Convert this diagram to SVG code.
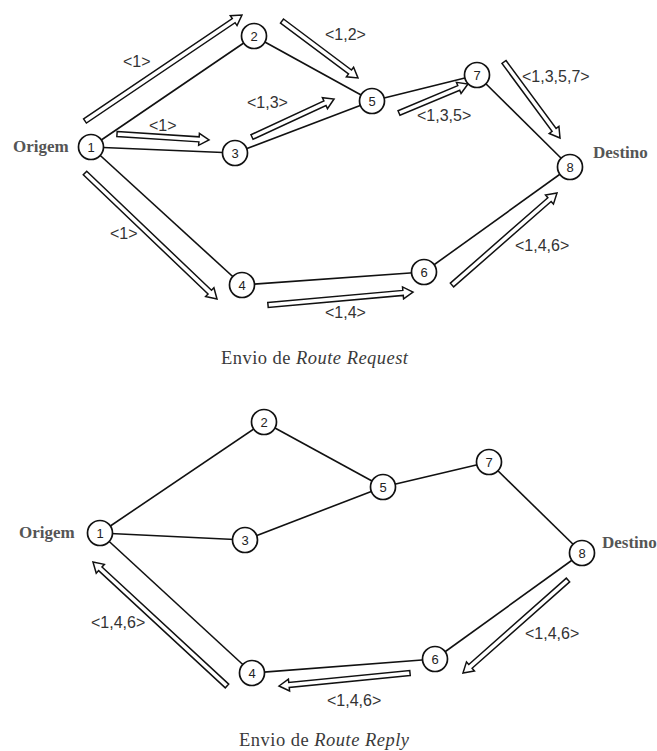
<svg xmlns="http://www.w3.org/2000/svg" width="657" height="751" viewBox="0 0 657 751">
<style>
.edge{stroke:#111;stroke-width:1.6;fill:none}
.arr{fill:#fff;stroke:#111;stroke-width:1.5;stroke-linejoin:miter}
.node circle{fill:#fff;stroke:#111;stroke-width:1.7}
.node text{font-family:"Liberation Sans",Arial,sans-serif;font-size:13px;fill:#222;text-anchor:middle}
.lbl{font-family:"Liberation Sans",Arial,sans-serif;font-size:16px;fill:#333}
.side{font-family:"Liberation Serif","Times New Roman",serif;font-size:17px;font-weight:bold;fill:#555}
.cap{font-family:"Liberation Serif","Times New Roman",serif;font-size:18.5px;fill:#3a3a3a}
</style>
<rect width="657" height="751" fill="#fff"/>

<g id="connectors">
  <!-- top edges -->
  <line class="edge" x1="91" y1="147" x2="254" y2="36"/>
  <line class="edge" x1="254" y1="36" x2="372" y2="101"/>
  <line class="edge" x1="91" y1="147" x2="235" y2="153"/>
  <line class="edge" x1="235" y1="153" x2="372" y2="101"/>
  <line class="edge" x1="372" y1="101" x2="477" y2="75"/>
  <line class="edge" x1="477" y1="75" x2="570" y2="167"/>
  <line class="edge" x1="91" y1="147" x2="242" y2="285"/>
  <line class="edge" x1="242" y1="285" x2="424" y2="272"/>
  <line class="edge" x1="424" y1="272" x2="570" y2="167"/>
  <!-- bottom edges -->
  <line class="edge" x1="100" y1="533" x2="264" y2="422"/>
  <line class="edge" x1="264" y1="422" x2="383" y2="487"/>
  <line class="edge" x1="100" y1="533" x2="245" y2="540"/>
  <line class="edge" x1="245" y1="540" x2="383" y2="487"/>
  <line class="edge" x1="383" y1="487" x2="489" y2="462"/>
  <line class="edge" x1="489" y1="462" x2="582" y2="553"/>
  <line class="edge" x1="100" y1="533" x2="252" y2="673"/>
  <line class="edge" x1="252" y1="673" x2="435" y2="659"/>
  <line class="edge" x1="435" y1="659" x2="582" y2="553"/>

  <!-- top hollow arrows -->
  <path class="arr" transform="translate(85 121) rotate(-34.03)" d="M0,-2.5 L179.4,-2.5 L179.4,-6 L189.4,0 L179.4,6 L179.4,2.5 L0,2.5 Z"/>
  <path class="arr" transform="translate(282 21) rotate(36.87)" d="M0,-2.5 L85,-2.5 L85,-6 L95,0 L85,6 L85,2.5 L0,2.5 Z"/>
  <path class="arr" transform="translate(117 134) rotate(3.73)" d="M0,-2.5 L82.2,-2.5 L82.2,-6 L92.2,0 L82.2,6 L82.2,2.5 L0,2.5 Z"/>
  <path class="arr" transform="translate(252 137) rotate(-24.86)" d="M0,-2.5 L80.4,-2.5 L80.4,-6 L90.4,0 L80.4,6 L80.4,2.5 L0,2.5 Z"/>
  <path class="arr" transform="translate(399 113) rotate(-22.8)" d="M0,-2.5 L64.8,-2.5 L64.8,-6 L74.8,0 L64.8,6 L64.8,2.5 L0,2.5 Z"/>
  <path class="arr" transform="translate(504 62) rotate(53.6)" d="M0,-2.5 L84.4,-2.5 L84.4,-6 L94.4,0 L84.4,6 L84.4,2.5 L0,2.5 Z"/>
  <path class="arr" transform="translate(85 173) rotate(43.67)" d="M0,-2.5 L172.5,-2.5 L172.5,-6 L182.5,0 L172.5,6 L172.5,2.5 L0,2.5 Z"/>
  <path class="arr" transform="translate(268 305) rotate(-5.12)" d="M0,-2.5 L135.6,-2.5 L135.6,-6 L145.6,0 L135.6,6 L135.6,2.5 L0,2.5 Z"/>
  <path class="arr" transform="translate(452 285) rotate(-41.22)" d="M0,-2.5 L129.6,-2.5 L129.6,-6 L139.6,0 L129.6,6 L129.6,2.5 L0,2.5 Z"/>

  <!-- bottom hollow arrows -->
  <path class="arr" transform="translate(227 686) rotate(-137.22)" d="M0,-2.5 L172.6,-2.5 L172.6,-6 L182.6,0 L172.6,6 L172.6,2.5 L0,2.5 Z"/>
  <path class="arr" transform="translate(410 673) rotate(174.33)" d="M0,-2.5 L121.6,-2.5 L121.6,-6 L131.6,0 L121.6,6 L121.6,2.5 L0,2.5 Z"/>
  <path class="arr" transform="translate(568 580) rotate(138.47)" d="M0,-2.5 L130.3,-2.5 L130.3,-6 L140.3,0 L130.3,6 L130.3,2.5 L0,2.5 Z"/>
</g>

<g id="labels-top">
  <text class="lbl" x="123" y="67">&lt;1&gt;</text>
  <text class="lbl" x="325" y="40">&lt;1,2&gt;</text>
  <text class="lbl" x="247" y="108">&lt;1,3&gt;</text>
  <text class="lbl" x="149" y="131">&lt;1&gt;</text>
  <text class="lbl" x="417" y="121">&lt;1,3,5&gt;</text>
  <text class="lbl" x="522" y="82">&lt;1,3,5,7&gt;</text>
  <text class="lbl" x="110" y="239">&lt;1&gt;</text>
  <text class="lbl" x="515" y="251">&lt;1,4,6&gt;</text>
  <text class="lbl" x="325" y="318">&lt;1,4&gt;</text>
  <text class="side" x="13" y="152">Origem</text>
  <text class="side" x="593" y="158">Destino</text>
  <text class="cap" x="221" y="364" textLength="187" lengthAdjust="spacing">Envio de <tspan font-style="italic">Route Request</tspan></text>
</g>

<g id="labels-bottom">
  <text class="lbl" x="91" y="628">&lt;1,4,6&gt;</text>
  <text class="lbl" x="525" y="639">&lt;1,4,6&gt;</text>
  <text class="lbl" x="327" y="706">&lt;1,4,6&gt;</text>
  <text class="side" x="19" y="538">Origem</text>
  <text class="side" x="602" y="548">Destino</text>
  <text class="cap" x="239" y="746" textLength="170" lengthAdjust="spacing">Envio de <tspan font-style="italic">Route Reply</tspan></text>
</g>

<g id="t1" class="node"><circle cx="91" cy="147" r="12.5"/><text x="91" y="151.5">1</text></g>
<g id="t2" class="node"><circle cx="254" cy="36" r="12.5"/><text x="254" y="40.5">2</text></g>
<g id="t3" class="node"><circle cx="235" cy="153" r="12.5"/><text x="235" y="157.5">3</text></g>
<g id="t4" class="node"><circle cx="242" cy="285" r="12.5"/><text x="242" y="289.5">4</text></g>
<g id="t5" class="node"><circle cx="372" cy="101" r="12.5"/><text x="372" y="105.5">5</text></g>
<g id="t6" class="node"><circle cx="424" cy="272" r="12.5"/><text x="424" y="276.5">6</text></g>
<g id="t7" class="node"><circle cx="477" cy="75" r="12.5"/><text x="477" y="79.5">7</text></g>
<g id="t8" class="node"><circle cx="570" cy="167" r="12.5"/><text x="570" y="171.5">8</text></g>

<g id="b1" class="node"><circle cx="100" cy="533" r="12.5"/><text x="100" y="537.5">1</text></g>
<g id="b2" class="node"><circle cx="264" cy="422" r="12.5"/><text x="264" y="426.5">2</text></g>
<g id="b3" class="node"><circle cx="245" cy="540" r="12.5"/><text x="245" y="544.5">3</text></g>
<g id="b4" class="node"><circle cx="252" cy="673" r="12.5"/><text x="252" y="677.5">4</text></g>
<g id="b5" class="node"><circle cx="383" cy="487" r="12.5"/><text x="383" y="491.5">5</text></g>
<g id="b6" class="node"><circle cx="435" cy="659" r="12.5"/><text x="435" y="663.5">6</text></g>
<g id="b7" class="node"><circle cx="489" cy="462" r="12.5"/><text x="489" y="466.5">7</text></g>
<g id="b8" class="node"><circle cx="582" cy="553" r="12.5"/><text x="582" y="557.5">8</text></g>
</svg>
